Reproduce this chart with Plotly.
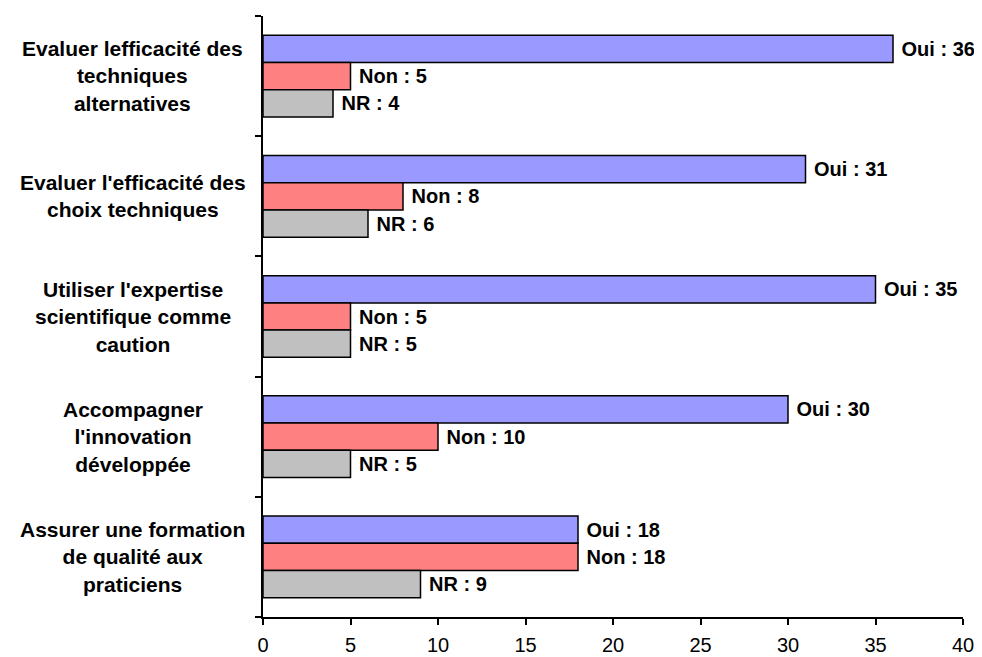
import plotly.graph_objects as go

# categories, top to bottom
categories = [
    "Evaluer lefficacité des<br>techniques<br>alternatives",
    "Evaluer l'efficacité des<br>choix techniques",
    "Utiliser l'expertise<br>scientifique comme<br>caution",
    "Accompagner<br>l'innovation<br>développée",
    "Assurer une formation<br>de qualité aux<br>praticiens",
]
oui = [36, 31, 35, 30, 18]
non = [5, 8, 5, 10, 18]
nr = [4, 6, 5, 5, 9]

x_ticks = [0, 5, 10, 15, 20, 25, 30, 35, 40]

series = [
    ("Oui", oui, "#9999FF"),
    ("Non", non, "#FF8080"),
    ("NR", nr, "#C0C0C0"),
]

label_font = dict(family="Liberation Sans, Arial", size=20, color="black", weight="bold")

fig = go.Figure()
for name, vals, color in series:
    fig.add_trace(go.Bar(
        y=list(range(len(categories))),
        x=vals,
        orientation="h",
        name=name,
        marker=dict(color=color, line=dict(color="black", width=1.5)),
        texttemplate="\u00a0" + name + " : %{x}",
        textposition="outside",
        textfont=label_font,
        constraintext="none",
        cliponaxis=False,
    ))

# category labels, centred to the left of the axis
for i, cat in enumerate(categories):
    fig.add_annotation(
        x=-0.186, xref="paper", y=i, yref="y",
        text=cat, showarrow=False, xanchor="center", yanchor="middle", align="center",
        font=dict(family="Liberation Sans, Arial", size=21, color="black", weight="bold"),
    )

# page body adds 8px, so the figure is sized to fit the window
fig.update_layout(
    width=974, height=649,
    margin=dict(l=255, r=19, t=8, b=40),
    paper_bgcolor="white", plot_bgcolor="white",
    barmode="group", bargap=0.32, bargroupgap=0,
    showlegend=False,
    font=dict(family="Liberation Sans, Arial", color="black"),
)
fig.update_xaxes(
    range=[0, 40], tickvals=x_ticks, showgrid=False, zeroline=False,
    showline=True, linecolor="black", linewidth=1.5,
    ticks="outside", ticklen=6, tickwidth=1.5, tickcolor="black",
    tickfont=dict(size=20, family="Liberation Sans, Arial"),
    ticklabelstandoff=3, automargin=False,
)
fig.update_yaxes(
    range=[4.5, -0.5], showgrid=False, zeroline=False,
    showline=True, linecolor="black", linewidth=1.5,
    tickvals=[-0.5, 0.5, 1.5, 2.5, 3.5, 4.5], showticklabels=False,
    ticks="outside", ticklen=6, tickwidth=1.5, tickcolor="black",
    automargin=False,
)

fig.write_html("out.html")
